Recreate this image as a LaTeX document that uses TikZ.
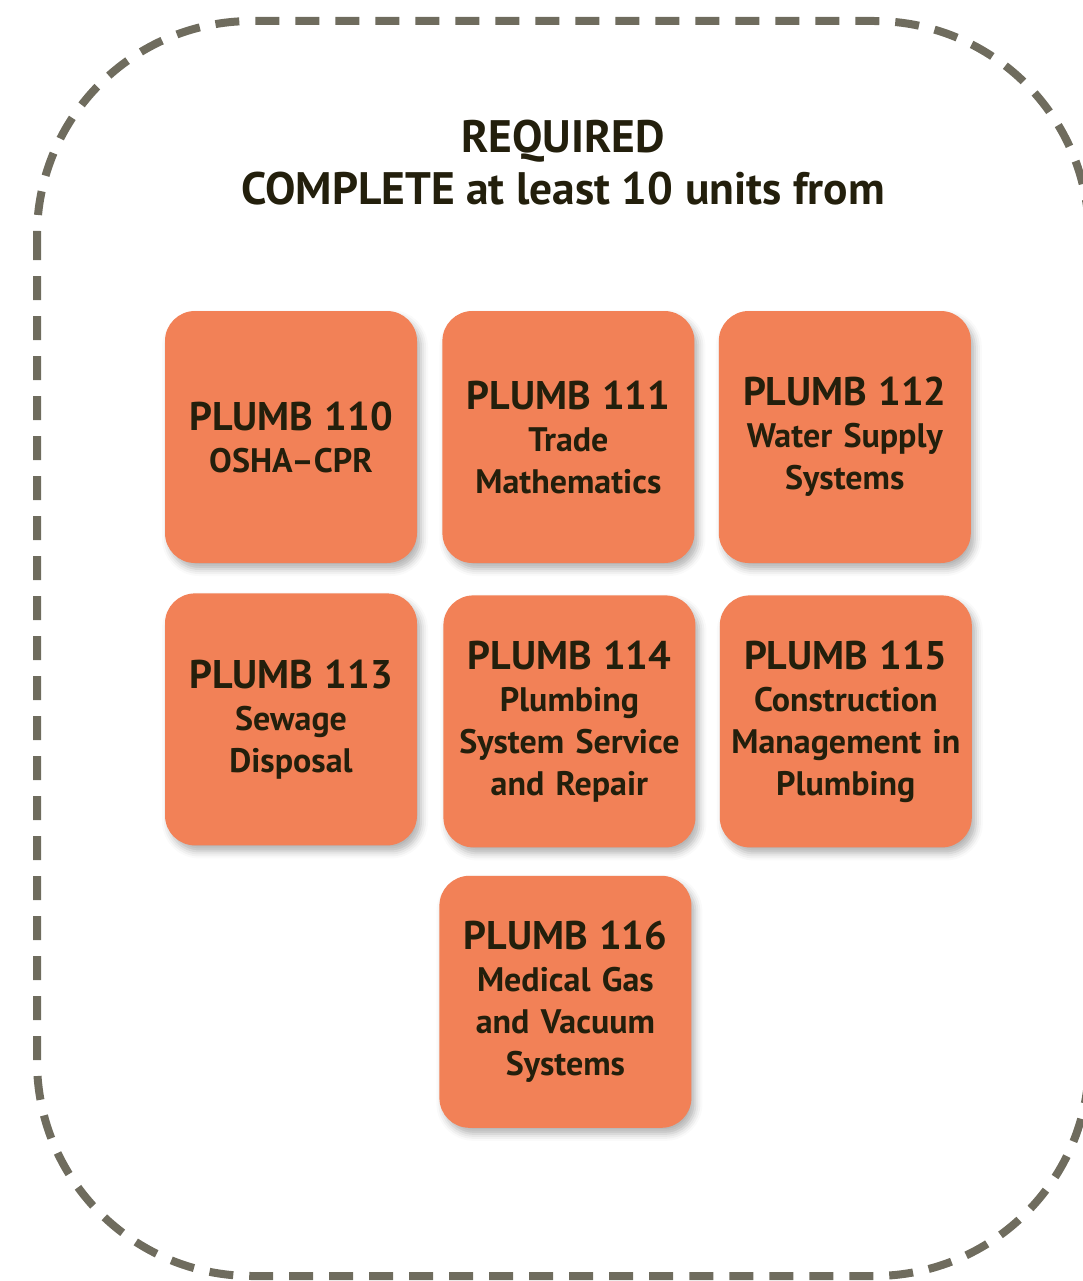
\documentclass[tikz,border=0pt]{standalone}
\usepackage{fontspec}
\setmainfont{PT Sans}
\usetikzlibrary{positioning,shadows.blur}
\definecolor{boxorange}{HTML}{F28157}
\definecolor{inkdark}{HTML}{231F0C}
\definecolor{bordergray}{HTML}{6F6C5E}
\newcommand{\coursenum}[1]{{\fontsize{40}{44}\selectfont\bfseries #1}}

\begin{document}
\begin{tikzpicture}[x=1pt,y=-1pt,
    course/.style={fill=boxorange, rounded corners=30pt, minimum width=252pt, minimum height=252pt,
      text width=248pt, align=center, inner sep=0pt, text=inkdark,
      font=\fontsize{34}{42}\selectfont\bfseries,
      blur shadow={shadow xshift=4pt, shadow yshift=-6pt, shadow blur radius=7pt, shadow opacity=30}},
    heading/.style={text=inkdark, font=\fontsize{45.5}{48}\selectfont\bfseries}]
  \useasboundingbox (0,0) rectangle (1083,1281);
  \draw[bordergray, line width=8pt, dash pattern=on 24pt off 16pt, rounded corners=215pt]
    (37,21) rectangle (1089,1276);

  \node[heading] (req) at (563,141) {REQUIRED};
  \node[heading] (compl) at (563,189) {COMPLETE at least 10 units from};

  \node[course] (p110) at (291,437) {\coursenum{PLUMB 110}\\ OSHA–CPR};
  \node[course, right=25pt of p110] (p111) {\coursenum{PLUMB 111}\\ Trade\\ Mathematics};
  \node[course, right=24pt of p111] (p112) {\coursenum{PLUMB 112}\\ Water Supply\\ Systems};
  \node[course, below=30pt of p110] (p113) {\coursenum{PLUMB 113}\\ Sewage\\ Disposal};
  \node[course, right=26pt of p113, yshift=-2pt] (p114) {\coursenum{PLUMB 114}\\ Plumbing\\ System Service\\ and Repair};
  \node[course, right=24pt of p114] (p115) {\coursenum{PLUMB 115}\\ Construction\\ Management in\\ Plumbing};
  \node[course, below=28pt of p114, xshift=-4pt] (p116) {\coursenum{PLUMB 116}\\ Medical Gas\\ and Vacuum\\ Systems};
\end{tikzpicture}
\end{document}
